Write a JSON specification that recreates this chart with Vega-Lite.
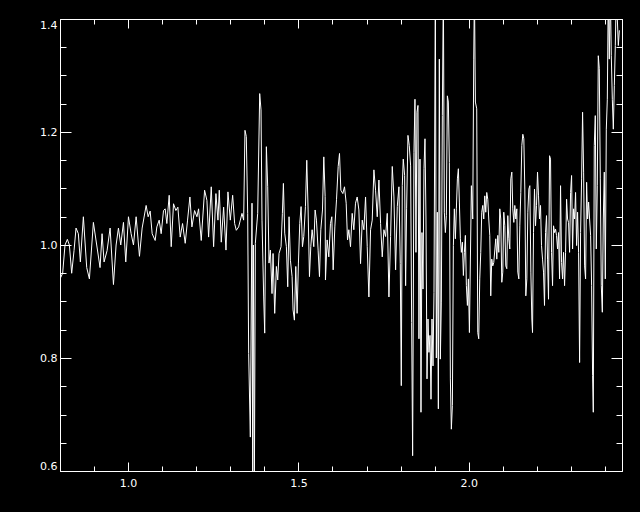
{
  "$schema": "https://vega.github.io/schema/vega-lite/v6.json",
  "width": 562,
  "height": 452,
  "autosize": {"type": "none"},
  "padding": {"left": 60, "top": 19, "right": 18, "bottom": 41},
  "background": "black",
  "config": {
    "view": {"stroke": "white", "strokeWidth": 1},
    "axis": {"domain": false, "grid": false, "tickColor": "white", "tickWidth": 1, "labelColor": "white", "labelFont": "DejaVu Sans", "labelFontSize": 11, "title": null}
  },
  "data": {"values": [
    {"x":0.8000,"y":0.94},{"x":0.8078,"y":0.95},{"x":0.8147,"y":1.00},{"x":0.8216,"y":1.01},{"x":0.8275,"y":1.00},{"x":0.8343,"y":0.95},{"x":0.8412,"y":0.99},{"x":0.8471,"y":1.03},{"x":0.8539,"y":1.02},{"x":0.8598,"y":0.97},{"x":0.8686,"y":1.05},{"x":0.8784,"y":0.96},{"x":0.8863,"y":0.94},{"x":0.8980,"y":1.04},{"x":0.9078,"y":1.00},{"x":0.9176,"y":0.96},{"x":0.9235,"y":1.02},{"x":0.9294,"y":0.97},{"x":0.9382,"y":0.99},{"x":0.9471,"y":1.03},{"x":0.9569,"y":0.93},{"x":0.9647,"y":1.00},{"x":0.9716,"y":1.03},{"x":0.9784,"y":1.00},{"x":0.9863,"y":1.04},{"x":0.9931,"y":0.97},{"x":1.0010,"y":1.05},{"x":1.0088,"y":1.02},{"x":1.0157,"y":1.00},{"x":1.0235,"y":1.05},{"x":1.0333,"y":0.98},{"x":1.0412,"y":1.03},{"x":1.0529,"y":1.07},{"x":1.0588,"y":1.05},{"x":1.0647,"y":1.06},{"x":1.0706,"y":1.02},
    {"x":1.0794,"y":1.008},{"x":1.0843,"y":1.032},{"x":1.0912,"y":1.044},{"x":1.0970,"y":1.020},{"x":1.1039,"y":1.061},{"x":1.1088,"y":1.064},{"x":1.1137,"y":1.038},{"x":1.1206,"y":1.088},{"x":1.1265,"y":0.997},{"x":1.1333,"y":1.073},{"x":1.1402,"y":1.061},{"x":1.1461,"y":1.067},{"x":1.1529,"y":1.014},{"x":1.1598,"y":1.038},{"x":1.1676,"y":1.003},{"x":1.1745,"y":1.044},{"x":1.1814,"y":1.085},{"x":1.1873,"y":1.032},{"x":1.1951,"y":1.061},{"x":1.2020,"y":1.050},{"x":1.2069,"y":1.064},{"x":1.2147,"y":1.008},{"x":1.2245,"y":1.097},{"x":1.2314,"y":1.079},{"x":1.2363,"y":1.014},{"x":1.2441,"y":1.103},{"x":1.2510,"y":0.997},{"x":1.2578,"y":1.091},{"x":1.2637,"y":1.044},{"x":1.2676,"y":1.097},{"x":1.2735,"y":1.005},{"x":1.2804,"y":1.067},{"x":1.2873,"y":0.991},{"x":1.2931,"y":1.094},{"x":1.3000,"y":1.044},{"x":1.3069,"y":1.088},{"x":1.3127,"y":1.038},{"x":1.3176,"y":1.026},{"x":1.3245,"y":1.032},{"x":1.3294,"y":1.044},
    {"x":1.3343,"y":1.056},{"x":1.3392,"y":1.044},{"x":1.3431,"y":1.203},{"x":1.3470,"y":1.192},{"x":1.3510,"y":1.056},{"x":1.3539,"y":0.808},{"x":1.3588,"y":0.66},{"x":1.3637,"y":1.074},{"x":1.3657,"y":0.57},{"x":1.3676,"y":1.0},{"x":1.3706,"y":0.56},{"x":1.3735,"y":1.003},{"x":1.3804,"y":1.056},{"x":1.3863,"y":1.268},{"x":1.3902,"y":1.239},{"x":1.3931,"y":1.044},{"x":1.3980,"y":0.908},{"x":1.4010,"y":0.844},{"x":1.4059,"y":1.174},{"x":1.4098,"y":1.103},{"x":1.4137,"y":0.968},{"x":1.4176,"y":0.991},{"x":1.4225,"y":0.914},{"x":1.4255,"y":0.985},{"x":1.4304,"y":0.879},{"x":1.4353,"y":0.962},{"x":1.4392,"y":0.938},{"x":1.4431,"y":0.985},{"x":1.4490,"y":0.997},{"x":1.4529,"y":1.056},{"x":1.4559,"y":1.109},{"x":1.4598,"y":1.021},{"x":1.4647,"y":0.997},{"x":1.4686,"y":0.926},{"x":1.4725,"y":1.050},{"x":1.4765,"y":0.973},{"x":1.4814,"y":0.944},{"x":1.4843,"y":0.885},{"x":1.4882,"y":0.867},{"x":1.4922,"y":0.962},{"x":1.4961,"y":0.879},{"x":1.5000,"y":0.968},{"x":1.5039,"y":1.038},{"x":1.5078,"y":1.068},{"x":1.5118,"y":0.997},{"x":1.5157,"y":1.015},{"x":1.5206,"y":1.068},{"x":1.5245,"y":1.150},{"x":1.5284,"y":1.062},{"x":1.5324,"y":0.944},{"x":1.5363,"y":0.997},{"x":1.5402,"y":1.027},{"x":1.5451,"y":0.997},{"x":1.5490,"y":1.062},{"x":1.5529,"y":1.044},{"x":1.5578,"y":0.991},{"x":1.5618,"y":0.944},{"x":1.5657,"y":1.027},{"x":1.5706,"y":1.062},{"x":1.5745,"y":1.156},{"x":1.5784,"y":1.086},
    {"x":1.5794,"y":0.938},{"x":1.5843,"y":1.009},{"x":1.5892,"y":0.979},{"x":1.5941,"y":1.038},{"x":1.5980,"y":1.050},{"x":1.6020,"y":0.956},{"x":1.6069,"y":1.032},{"x":1.6118,"y":1.080},{"x":1.6167,"y":1.139},{"x":1.6206,"y":1.162},{"x":1.6245,"y":1.097},{"x":1.6304,"y":1.091},{"x":1.6353,"y":1.103},{"x":1.6402,"y":1.074},{"x":1.6441,"y":1.009},{"x":1.6480,"y":1.027},{"x":1.6529,"y":0.997},{"x":1.6578,"y":1.056},{"x":1.6627,"y":1.027},{"x":1.6676,"y":1.074},{"x":1.6725,"y":1.085},{"x":1.6775,"y":1.062},{"x":1.6824,"y":0.967},{"x":1.6873,"y":1.044},{"x":1.6922,"y":1.027},{"x":1.6971,"y":1.085},{"x":1.7020,"y":0.997},{"x":1.7069,"y":0.908},{"x":1.7118,"y":1.027},{"x":1.7167,"y":1.044},{"x":1.7216,"y":1.133},{"x":1.7265,"y":1.097},{"x":1.7314,"y":1.050},{"x":1.7363,"y":1.115},{"x":1.7412,"y":1.038},{"x":1.7461,"y":0.979},{"x":1.7510,"y":1.027},{"x":1.7559,"y":1.015},{"x":1.7608,"y":1.056},{"x":1.7657,"y":0.908},{"x":1.7706,"y":1.015},{"x":1.7755,"y":1.139},{"x":1.7804,"y":1.085},{"x":1.7853,"y":0.956},{"x":1.7902,"y":1.068},{"x":1.7951,"y":1.103},{"x":1.7990,"y":0.967},
    {"x":1.8020,"y":0.751},{"x":1.8049,"y":1.105},{"x":1.8078,"y":1.152},{"x":1.8118,"y":1.123},{"x":1.8147,"y":0.928},{"x":1.8176,"y":1.064},{"x":1.8216,"y":1.194},{"x":1.8255,"y":1.176},{"x":1.8294,"y":1.140},{"x":1.8324,"y":0.863},{"x":1.8353,"y":0.627},{"x":1.8392,"y":1.164},{"x":1.8422,"y":1.258},{"x":1.8451,"y":0.987},{"x":1.8480,"y":1.235},{"x":1.8510,"y":1.247},{"x":1.8539,"y":0.834},{"x":1.8569,"y":1.152},{"x":1.8598,"y":0.704},{"x":1.8627,"y":1.022},{"x":1.8657,"y":0.922},{"x":1.8686,"y":1.135},{"x":1.8716,"y":1.188},{"x":1.8745,"y":1.046},{"x":1.8775,"y":0.763},{"x":1.8804,"y":0.869},{"x":1.8833,"y":0.810},{"x":1.8863,"y":0.840},{"x":1.8892,"y":0.727},{"x":1.8922,"y":0.869},{"x":1.8951,"y":0.786},{"x":1.8980,"y":0.916},{"x":1.9020,"y":1.45},{"x":1.9049,"y":0.800},{"x":1.9078,"y":1.058},{"x":1.9108,"y":0.710},{"x":1.9137,"y":1.329},{"x":1.9167,"y":0.798},{"x":1.9196,"y":0.899},{"x":1.9225,"y":1.229},{"x":1.9255,"y":1.45},{"x":1.9284,"y":1.058},{"x":1.9314,"y":1.022},{"x":1.9343,"y":1.052},{"x":1.9373,"y":1.264},{"x":1.9402,"y":1.253},{"x":1.9431,"y":1.146},{"x":1.9461,"y":0.763},{"x":1.9490,"y":0.674},{"x":1.9520,"y":0.716},{"x":1.9549,"y":0.999},{"x":1.9578,"y":1.064},{"x":1.9608,"y":1.011},{"x":1.9637,"y":1.064},{"x":1.9667,"y":1.117},{"x":1.9696,"y":1.135},{"x":1.9725,"y":1.076},{"x":1.9755,"y":1.011},{"x":1.9784,"y":0.987},{"x":1.9814,"y":1.005},{"x":1.9843,"y":0.946},{"x":1.9873,"y":0.987},{"x":1.9902,"y":1.017},{"x":1.9931,"y":0.928},{"x":1.9961,"y":0.893},{"x":1.9990,"y":0.940},{"x":2.0020,"y":0.845},{"x":2.0078,"y":1.105},{"x":2.0118,"y":1.046},{"x":2.0147,"y":1.329},{"x":2.0167,"y":1.45},{"x":2.0196,"y":1.253},{"x":2.0235,"y":1.241},{"x":2.0265,"y":0.845},{"x":2.0294,"y":0.834},{"x":2.0324,"y":0.940},{"x":2.0353,"y":0.987},{"x":2.0382,"y":1.058},{"x":2.0412,"y":1.070},{"x":2.0441,"y":1.046},{"x":2.0471,"y":1.087},{"x":2.0500,"y":1.058},{"x":2.0529,"y":1.093},{"x":2.0559,"y":1.081},{"x":2.0588,"y":1.046},{"x":2.0618,"y":1.017},{"x":2.0647,"y":0.910},{"x":2.0676,"y":0.975},{"x":2.0706,"y":0.963},{"x":2.0735,"y":0.969},
    {"x":2.0794,"y":1.011},{"x":2.0824,"y":0.975},{"x":2.0853,"y":1.017},{"x":2.0882,"y":0.987},{"x":2.0912,"y":1.064},{"x":2.0941,"y":1.046},{"x":2.0971,"y":0.934},{"x":2.1000,"y":0.952},{"x":2.1029,"y":1.058},{"x":2.1059,"y":1.034},{"x":2.1088,"y":0.963},{"x":2.1118,"y":0.958},{"x":2.1147,"y":1.052},{"x":2.1176,"y":1.011},{"x":2.1206,"y":0.993},{"x":2.1235,"y":1.117},{"x":2.1265,"y":1.129},{"x":2.1294,"y":1.064},{"x":2.1324,"y":1.040},{"x":2.1353,"y":1.070},{"x":2.1382,"y":1.046},{"x":2.1412,"y":1.064},{"x":2.1441,"y":0.952},{"x":2.1471,"y":0.940},{"x":2.1500,"y":1.034},{"x":2.1529,"y":1.093},{"x":2.1559,"y":1.176},{"x":2.1588,"y":1.196},{"x":2.1618,"y":1.188},{"x":2.1647,"y":1.099},{"x":2.1676,"y":0.910},{"x":2.1706,"y":0.940},{"x":2.1735,"y":1.058},{"x":2.1765,"y":1.099},{"x":2.1794,"y":1.105},{"x":2.1824,"y":0.952},{"x":2.1853,"y":0.869},{"x":2.1873,"y":0.845},{"x":2.1902,"y":1.022},{"x":2.1931,"y":1.099},{"x":2.1961,"y":1.034},{"x":2.1990,"y":1.070},{"x":2.2020,"y":1.129},{"x":2.2049,"y":1.087},{"x":2.2078,"y":1.046},{"x":2.2108,"y":1.070},{"x":2.2137,"y":0.999},{"x":2.2167,"y":0.975},{"x":2.2196,"y":0.952},{"x":2.2225,"y":0.893},{"x":2.2255,"y":1.022},{"x":2.2284,"y":1.052},{"x":2.2314,"y":0.975},{"x":2.2343,"y":0.904},{"x":2.2373,"y":1.158},{"x":2.2402,"y":1.152},{"x":2.2431,"y":0.987},{"x":2.2461,"y":0.928},{"x":2.2490,"y":1.034},{"x":2.2520,"y":1.022},{"x":2.2549,"y":1.028},{"x":2.2578,"y":1.017},{"x":2.2608,"y":0.993},{"x":2.2637,"y":1.022},{"x":2.2667,"y":0.940},{"x":2.2696,"y":1.105},{"x":2.2725,"y":0.969},{"x":2.2755,"y":0.940},{"x":2.2784,"y":0.987},{"x":2.2814,"y":0.928},{"x":2.2843,"y":0.987},{"x":2.2873,"y":1.081},{"x":2.2902,"y":1.046},{"x":2.2931,"y":1.040},{"x":2.2961,"y":0.987},{"x":2.2990,"y":1.093},{"x":2.3020,"y":1.123},{"x":2.3049,"y":0.993},{"x":2.3078,"y":1.064},{"x":2.3108,"y":1.046},{"x":2.3137,"y":1.093},{"x":2.3167,"y":0.999},{"x":2.3196,"y":1.058},{"x":2.3225,"y":0.987},{"x":2.3255,"y":0.792},{"x":2.3284,"y":1.022},{"x":2.3314,"y":1.117},{"x":2.3343,"y":1.235},{"x":2.3373,"y":1.129},{"x":2.3402,"y":0.963},{"x":2.3431,"y":0.940},{"x":2.3461,"y":1.111},{"x":2.3490,"y":1.046},{"x":2.3520,"y":1.076},{"x":2.3549,"y":1.046},{"x":2.3578,"y":1.017},{"x":2.3608,"y":0.928},{"x":2.3637,"y":0.769},{"x":2.3657,"y":0.704},{"x":2.3686,"y":1.176},{"x":2.3716,"y":1.229},{"x":2.3745,"y":0.993},{"x":2.3775,"y":1.105},{"x":2.3804,"y":1.335},{"x":2.3833,"y":1.312},{"x":2.3863,"y":1.117},{"x":2.3892,"y":0.928},{"x":2.3922,"y":0.881},{"x":2.3951,"y":1.046},{"x":2.3980,"y":1.129},{"x":2.4010,"y":0.940},{"x":2.4039,"y":1.205},{"x":2.4069,"y":1.258},{"x":2.4098,"y":1.45},{"x":2.4127,"y":1.329},{"x":2.4157,"y":1.45},{"x":2.4186,"y":1.335},{"x":2.4216,"y":1.258},{"x":2.4245,"y":1.205},{"x":2.4275,"y":1.282},{"x":2.4304,"y":1.353},{"x":2.4333,"y":1.45},{"x":2.4363,"y":1.40},{"x":2.4392,"y":1.353},{"x":2.4422,"y":1.38}
  ]},
  "resolve": {"axis": {"x": "independent", "y": "independent"}},
  "layer": [
    {
      "mark": {"type": "line", "color": "white", "strokeWidth": 1, "clip": true},
      "encoding": {
        "x": {"field": "x", "type": "quantitative", "scale": {"domain": [0.8, 2.45], "nice": false, "zero": false},
              "axis": {"orient": "bottom", "values": [1.0, 1.5, 2.0], "format": ".1f", "tickSize": -9, "labelPadding": 15, "domain": true, "domainColor": "white"}},
        "y": {"field": "y", "type": "quantitative", "scale": {"domain": [0.6, 1.4], "nice": false, "zero": false},
              "axis": {"orient": "left", "values": [0.6, 0.8, 1.0, 1.2, 1.4], "format": ".1f", "tickSize": -11, "labelPadding": 14, "labelFlush": true, "domain": true, "domainColor": "white"}}
      }
    },
    {
      "mark": {"type": "line", "strokeOpacity": 0, "clip": true},
      "encoding": {
        "x": {"field": "x", "type": "quantitative", "axis": {"orient": "bottom", "values": [0.8, 0.9, 1.1, 1.2, 1.3, 1.4, 1.6, 1.7, 1.8, 1.9, 2.1, 2.2, 2.3, 2.4], "tickSize": -5, "labels": false}},
        "y": {"field": "y", "type": "quantitative", "axis": {"orient": "left", "values": [0.65, 0.7, 0.75, 0.85, 0.9, 0.95, 1.05, 1.1, 1.15, 1.25, 1.3, 1.35], "tickSize": -6, "labels": false}}
      }
    },
    {
      "mark": {"type": "line", "strokeOpacity": 0, "clip": true},
      "encoding": {
        "x": {"field": "x", "type": "quantitative", "axis": {"orient": "top", "values": [1.0, 1.5, 2.0], "tickSize": -9, "labels": false, "domain": true, "domainColor": "white"}},
        "y": {"field": "y", "type": "quantitative", "axis": {"orient": "right", "values": [0.6, 0.8, 1.0, 1.2, 1.4], "tickSize": -11, "labels": false, "domain": true, "domainColor": "white"}}
      }
    },
    {
      "mark": {"type": "line", "strokeOpacity": 0, "clip": true},
      "encoding": {
        "x": {"field": "x", "type": "quantitative", "axis": {"orient": "top", "values": [0.8, 0.9, 1.1, 1.2, 1.3, 1.4, 1.6, 1.7, 1.8, 1.9, 2.1, 2.2, 2.3, 2.4], "tickSize": -5, "labels": false}},
        "y": {"field": "y", "type": "quantitative", "axis": {"orient": "right", "values": [0.65, 0.7, 0.75, 0.85, 0.9, 0.95, 1.05, 1.1, 1.15, 1.25, 1.3, 1.35], "tickSize": -6, "labels": false}}
      }
    }
  ]
}
